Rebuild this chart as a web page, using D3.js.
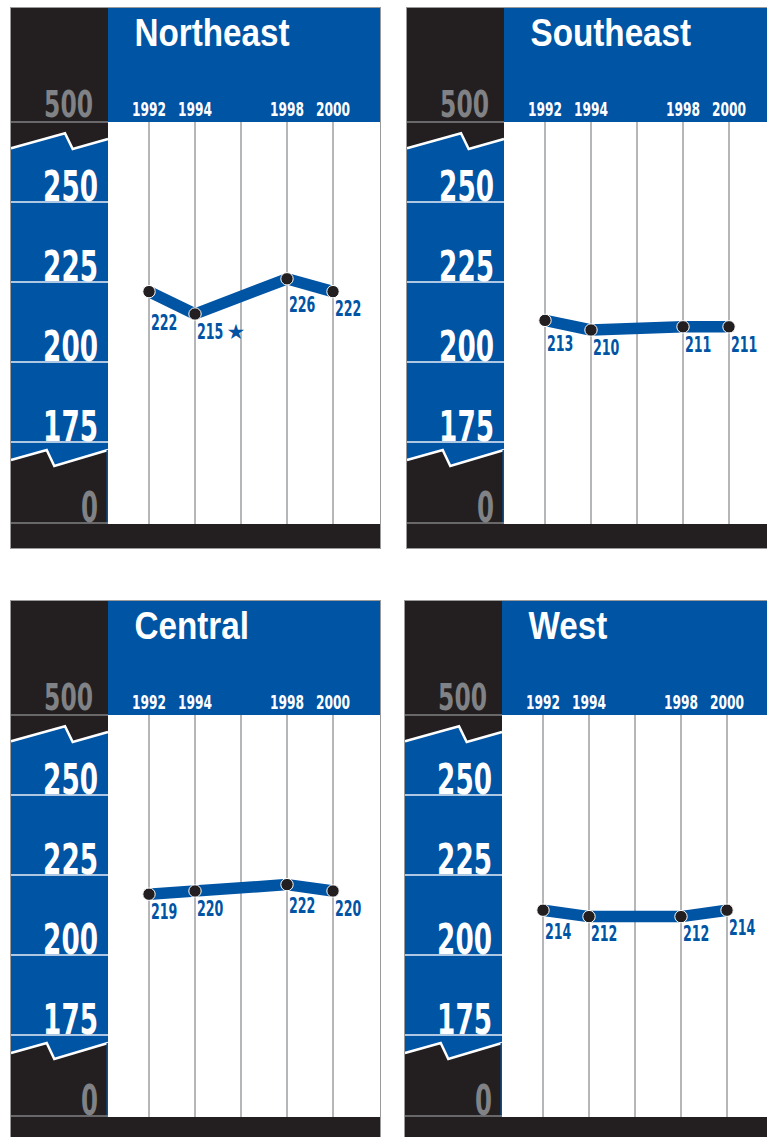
<!DOCTYPE html>
<html><head><meta charset="utf-8">
<script src="https://cdn.jsdelivr.net/npm/d3@7"></script>
<style>html,body{margin:0;padding:0;background:#fff;}svg{display:block;}</style>
</head><body>
<script>
// ---- data ----
const regions = ["Northeast", "Southeast", "Central", "West"];
const years = [1992, 1994, 1998, 2000];
const yearLabels = ["1992", "1994", "1998", "2000"];
const gridYears = [1992, 1994, 1996, 1998, 2000];
const northeast = [222, 215, 226, 222];
const southeast = [213, 210, 211, 211];
const central = [219, 220, 222, 220];
const west = [214, 212, 212, 214];
const northeastFlags = [false, true, false, false];
const southeastFlags = [false, false, false, false];
const centralFlags = [false, false, false, false];
const westFlags = [false, false, false, false];
const yTicks = [250, 225, 200, 175];
const yTopLabel = "500";
const yBottomLabel = "0";

const series = [northeast, southeast, central, west];
const flags = [northeastFlags, southeastFlags, centralFlags, westFlags];

// ---- layout ----
const W = 767, H = 1137;
const origins = [[11, 8], [407, 8], [11, 601], [405, 601]];
const pw = 369, ph = 540, colW = 97, headH = 114, plotB = 516;
const BLUE = "#0054a4", DARK = "#231f20", GRAY = "#808285";
const NARROW = "'Liberation Sans Narrow','DejaVu Sans Condensed','Arial Narrow',sans-serif";

const x = d3.scaleLinear().domain([1992, 2000]).range([138, 322]);
const y = d3.scaleLinear().domain([175, 250]).range([434, 194]);

const svg = d3.select("body").append("svg").attr("width", W).attr("height", H);

function numText(g, str, px, py, size, digitW, anchor, fill) {
  return g.append("text")
    .attr("x", px).attr("y", py)
    .attr("font-family", NARROW).attr("font-weight", "bold")
    .attr("font-size", size).attr("fill", fill)
    .attr("text-anchor", anchor)
    .attr("textLength", str.length * digitW)
    .attr("lengthAdjust", "spacingAndGlyphs")
    .text(str);
}

regions.forEach((name, i) => {
  const g = svg.append("g").attr("transform", `translate(${origins[i][0]},${origins[i][1]})`);
  const vals = series[i], fl = flags[i];

  // left column dark
  g.append("rect").attr("x", 0).attr("y", 0).attr("width", colW).attr("height", plotB).attr("fill", DARK);
  // blue band between breaks
  const topBreak = [[0, 140.3], [54, 125.3], [61.7, 141], [colW, 131]];
  const botBreak = [[0, 452], [35.7, 442], [43.3, 458], [colW, 442]];
  g.append("path")
    .attr("d", d3.line()(topBreak.concat(botBreak.slice().reverse())) + "Z")
    .attr("fill", BLUE);
  [topBreak, botBreak].forEach(b => {
    g.append("path").attr("d", d3.line()(b)).attr("fill", "none")
      .attr("stroke", "#fff").attr("stroke-width", 2.5);
  });
  g.append("rect").attr("x", colW - 1.5).attr("y", 442).attr("width", 1.5).attr("height", plotB - 442).attr("fill", BLUE);
  // tick lines in the column
  yTicks.forEach(v => {
    g.append("line").attr("x1", 0).attr("x2", colW).attr("y1", y(v)).attr("y2", y(v))
      .attr("stroke", "#e8eef7").attr("stroke-width", 1.5);
  });
  g.append("line").attr("x1", 0).attr("x2", colW).attr("y1", headH).attr("y2", headH)
    .attr("stroke", GRAY).attr("stroke-width", 1.5);
  g.append("line").attr("x1", 0).attr("x2", colW).attr("y1", plotB - 1).attr("y2", plotB - 1)
    .attr("stroke", GRAY).attr("stroke-width", 1.5);
  // y labels
  yTicks.forEach(v => numText(g, String(v), 87, y(v) - 1.5, 43, 18.3, "end", "#fff"));
  numText(g, yTopLabel, 82, 108.5, 38, 16.3, "end", GRAY);
  numText(g, yBottomLabel, 87, 513.5, 43, 17, "end", GRAY);

  // header
  g.append("rect").attr("x", colW).attr("y", 0).attr("width", pw - colW).attr("height", headH).attr("fill", BLUE);
  g.append("text")
    .attr("transform", `translate(123.5,37.5) scale(0.875,1)`)
    .attr("font-family", "'Liberation Sans',Arial,sans-serif").attr("font-weight", "bold")
    .attr("font-size", 38).attr("fill", "#fff").text(name);
  years.forEach((yr, j) => numText(g, yearLabels[j], x(yr), 107.5, 19.5, 8.5, "middle", "#fff"));

  // plot area
  g.append("rect").attr("x", colW).attr("y", headH).attr("width", pw - colW).attr("height", plotB - headH).attr("fill", "#fff");
  gridYears.forEach(yr => {
    g.append("line").attr("x1", x(yr)).attr("x2", x(yr)).attr("y1", headH).attr("y2", plotB)
      .attr("stroke", "#6d6e71").attr("stroke-width", 1);
  });
  // bottom bar
  g.append("rect").attr("x", 0).attr("y", plotB).attr("width", pw).attr("height", ph - plotB).attr("fill", DARK);
  // border
  g.append("rect").attr("x", -0.5).attr("y", -0.5).attr("width", pw + 1).attr("height", ph + 1)
    .attr("fill", "none").attr("stroke", "#9a9a9a").attr("stroke-width", 1);

  // data line
  const pts = years.map((yr, j) => [x(yr), y(vals[j])]);
  g.append("path").attr("d", d3.line()(pts)).attr("fill", "none")
    .attr("stroke", BLUE).attr("stroke-width", 11.5).attr("stroke-linejoin", "round");
  pts.forEach(p => {
    g.append("circle").attr("cx", p[0]).attr("cy", p[1]).attr("r", 6.2)
      .attr("fill", DARK).attr("stroke", "#fff").attr("stroke-width", 1);
  });
  // labels
  function lineYAt(px) {
    for (let k = 0; k < pts.length - 1; k++) {
      if (px >= pts[k][0] && px <= pts[k + 1][0]) {
        const t = (px - pts[k][0]) / (pts[k + 1][0] - pts[k][0]);
        return pts[k][1] + t * (pts[k + 1][1] - pts[k][1]);
      }
    }
    return -Infinity;
  }
  pts.forEach((p, j) => {
    const str = String(vals[j]);
    const lx = p[0] + 2;
    const t = g.append("text").attr("x", lx)
      .attr("font-family", NARROW).attr("font-weight", "bold")
      .attr("font-size", 20.5).attr("fill", BLUE);
    t.append("tspan").text(str);
    let w = t.node().getComputedTextLength();
    const target = str.length * 8.8;
    if (w > target * 1.08) { t.select("tspan").attr("textLength", target).attr("lengthAdjust", "spacingAndGlyphs"); w = target; }
    const rightEdge = lx + w;
    const top = Math.max(p[1] + 6, lineYAt(rightEdge) + 6) + 4;
    const base = top + 14.8;
    t.attr("y", base);
    if (fl[j]) {
      t.append("tspan").attr("dx", 3).attr("font-family", "'DejaVu Sans',sans-serif")
        .attr("font-weight", "normal").attr("font-size", 21).text("\u2605");
    }
  });
});
</script>
</body></html>
